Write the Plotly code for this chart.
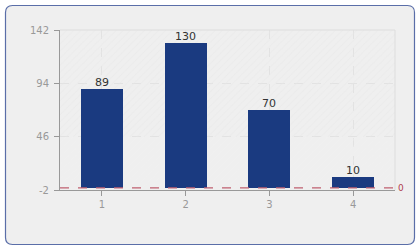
import plotly.graph_objects as go

categories = [1, 2, 3, 4]
values = [89, 130, 70, 10]
tick_vals_y = [-2, 46, 94, 142]
tick_text_y = ["-2", "46", "94", "142"]
ref_value = 0

W, H = 420, 250
ML, MR, MT, MB = 60, 25, 30, 60
PW, PH = W - ML - MR, H - MT - MB


def px_x(x):
    return (x - ML) / PW


def px_y(y):
    return (H - MB - y) / PH


def rounded_rect(x0, y0, x1, y1, r):
    return (f"M {px_x(x0 + r)},{px_y(y0)} L {px_x(x1 - r)},{px_y(y0)} "
            f"Q {px_x(x1)},{px_y(y0)} {px_x(x1)},{px_y(y0 + r)} "
            f"L {px_x(x1)},{px_y(y1 - r)} Q {px_x(x1)},{px_y(y1)} {px_x(x1 - r)},{px_y(y1)} "
            f"L {px_x(x0 + r)},{px_y(y1)} Q {px_x(x0)},{px_y(y1)} {px_x(x0)},{px_y(y1 - r)} "
            f"L {px_x(x0)},{px_y(y0 + r)} Q {px_x(x0)},{px_y(y0)} {px_x(x0 + r)},{px_y(y0)} Z")


fig = go.Figure()

# background hatch bands
fig.add_trace(go.Bar(
    x=[2.5], y=[96], base=[46], width=[4],
    marker=dict(color="rgba(0,0,0,0)", line=dict(width=0),
                pattern=dict(shape="/", fgcolor="#e6e6e6", bgcolor="rgba(0,0,0,0)",
                             size=5, solidity=0.2)),
    hoverinfo="skip", showlegend=False))
fig.add_trace(go.Bar(
    x=[2.5], y=[48], base=[-2], width=[4],
    marker=dict(color="rgba(0,0,0,0)", line=dict(width=0),
                pattern=dict(shape="/", fgcolor="#f1f1f1", bgcolor="rgba(0,0,0,0)",
                             size=5, solidity=0.2)),
    hoverinfo="skip", showlegend=False))

fig.add_trace(go.Bar(
    x=categories, y=values, width=[0.5] * len(values),
    marker=dict(color="#1a3a80", line=dict(width=0)),
    hoverinfo="x+y", showlegend=False))

annotations = [
    dict(xref="x", yref="y", x=c, y=v, text=str(v), showarrow=False,
         xanchor="center", yanchor="bottom", yshift=-2,
         font=dict(family="DejaVu Sans", size=11, color="#333333"))
    for c, v in zip(categories, values)
]
annotations.append(
    dict(xref="paper", yref="y", x=1, y=ref_value, text=str(ref_value), showarrow=False,
         xanchor="left", yanchor="middle", xshift=1,
         font=dict(family="DejaVu Sans", size=9, color="#b04050")))

fig.update_layout(
    width=W, height=H,
    margin=dict(l=ML, r=MR, t=MT, b=MB),
    paper_bgcolor="white", plot_bgcolor="white",
    barmode="overlay", bargap=0,
    font=dict(family="DejaVu Sans", size=10, color="#999999"),
    xaxis=dict(range=[0.5, 4.5], tickvals=categories, ticks="outside", ticklen=5,
               tickcolor="#999999", showline=True, linecolor="#999999", linewidth=1,
               showgrid=True, gridcolor="#e2e2e2", griddash="dash", zeroline=False,
               tickfont=dict(size=10, color="#999999")),
    yaxis=dict(range=[-2, 142], tickvals=tick_vals_y, ticktext=tick_text_y,
               ticks="outside", ticklen=5, ticklabelstandoff=3,
               tickcolor="#999999", showline=True, linecolor="#999999", linewidth=1,
               showgrid=True, gridcolor="#e2e2e2", griddash="dash", zeroline=False,
               tickfont=dict(size=10, color="#999999")),
    shapes=[
        dict(type="path", xref="paper", yref="paper", layer="below",
             path=rounded_rect(5.5, 5.5, 414.5, 244.5, 7),
             fillcolor="#efefef", line=dict(color="#5a6ea8", width=1.2)),
        dict(type="path", xref="paper", yref="paper", layer="above",
             path="M 0,1 L 1,1 L 1,0", line=dict(color="#dddddd", width=1)),
        dict(type="line", xref="paper", yref="y", x0=0, x1=1, y0=ref_value, y1=ref_value,
             line=dict(color="#c06070", width=1.2, dash="dash"), layer="above"),
    ],
    annotations=annotations,
)

fig.write_html("out.html")
